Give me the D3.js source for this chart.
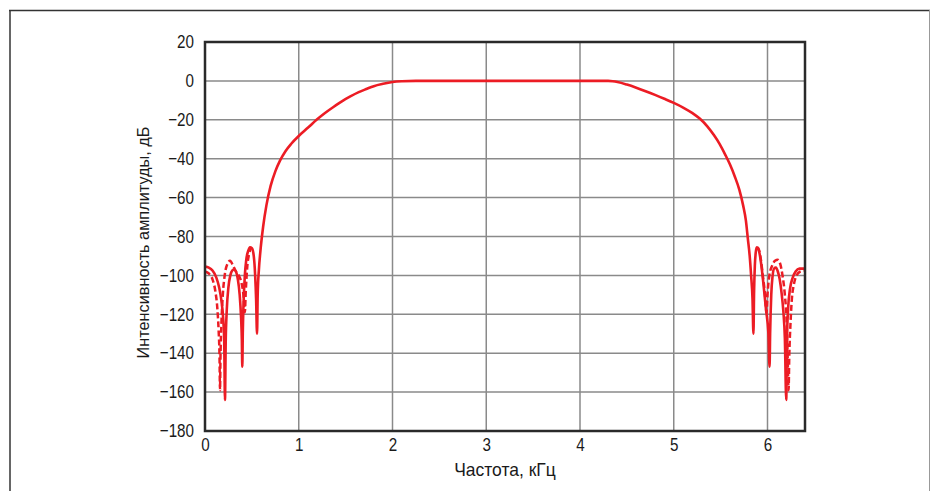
<!DOCTYPE html>
<html><head><meta charset="utf-8">
<script src="https://cdn.jsdelivr.net/npm/d3@7"></script>
<style>
html,body{margin:0;padding:0;background:#fff;}
svg{display:block;}
</style></head>
<body>
<svg id="chart" width="931" height="491"></svg>
<script>
// Frequency (kHz) and magnitude (dB) of the solid response
const solidFreq = [0.00,0.04,0.08,0.12,0.15,0.175,0.195,0.205,0.213,0.221,0.232,0.25,0.27,0.29,0.31,0.33,0.35,0.37,0.385,0.393,0.398,0.403,0.41,0.425,0.44,0.46,0.48,0.50,0.52,0.535,0.545,0.555,0.562,0.575,0.59,0.62,0.655,0.70,0.75,0.80,0.86,0.92,1.0,1.1,1.19,1.28,1.37,1.46,1.55,1.64,1.72,1.8,1.9,2.0,2.1,2.25,2.5,3.0,3.5,4.0,4.3,4.35,4.4,4.5,4.6,4.7,4.8,4.9,5.0,5.1,5.2,5.28,5.36,5.43,5.49,5.55,5.6,5.65,5.7,5.74,5.77,5.79,5.81,5.825,5.84,5.85,5.857,5.865,5.875,5.885,5.9,5.92,5.94,5.96,5.985,6.01,6.022,6.028,6.04,6.055,6.07,6.09,6.11,6.13,6.15,6.17,6.185,6.2,6.207,6.22,6.24,6.27,6.3,6.34,6.4];
const solidDb = [-95.5,-96,-97.5,-101,-106,-113,-123,-134,-164,-134,-118,-106,-100,-97.5,-97,-98,-102,-110,-122,-133,-147,-130,-116,-100,-92,-87.5,-85.5,-86,-90,-100,-112,-130,-110,-97,-88,-75,-64,-54,-46.5,-41,-36,-32.3,-28.3,-24,-20,-16.5,-13.4,-10.5,-8,-5.8,-4.2,-2.7,-1.5,-0.6,-0.2,0,0,0,0,0,0,-0.2,-0.6,-1.9,-3.5,-5.3,-7.2,-9.2,-11.3,-13.7,-16.6,-19.5,-23.5,-28,-32.5,-38,-43,-49,-56,-64,-72,-81,-90,-100,-112,-130,-108,-95,-88,-85.5,-86,-90,-97,-106,-118,-130,-147,-130,-110,-100,-96.5,-96,-98,-102,-109,-119,-132,-164,-134,-117,-107,-101,-98,-96.5,-96.5];
// Dashed response (stopband portions where it differs); null = gap
const dashedFreq = [0.00,0.04,0.08,0.11,0.13,0.145,0.155,0.16,0.165,0.175,0.19,0.21,0.24,0.267,0.30,0.33,0.36,0.39,0.41,0.425,0.435,0.45,0.47,0.49, null, 5.89,5.91,5.93,5.95,5.97,5.99,6.0,6.02,6.05,6.08,6.11,6.135,6.16,6.185,6.205,6.215,6.225,6.232,6.245,6.26,6.28,6.31,6.35,6.4];
const dashedDb = [-98,-99,-102,-108,-116,-128,-142,-159,-142,-125,-110,-100,-94,-92.5,-95,-98,-100,-104,-110,-119,-108,-96,-89,-86, null, -85.5,-87,-92,-100,-108,-119,-110,-100,-95,-92.5,-92,-94,-100,-110,-125,-142,-159,-142,-125,-112,-105,-100,-98,-97.5];
const xTicks = [0,1,2,3,4,5,6];
const yTicks = [20,0,-20,-40,-60,-80,-100,-120,-140,-160,-180];
const xTitle = "Частота, кГц";
const yTitle = "Интенсивность амплитуды, дБ";

const svg = d3.select("#chart");
const W = 931, H = 491;
const pL = 205, pR = 805, pT = 42, pB = 431;
const x = d3.scaleLinear().domain([0, 6.4]).range([pL, pR]);
const y = d3.scaleLinear().domain([-180, 20]).range([pB, pT]);
const FONT = "'Liberation Sans',Arial,sans-serif";

// condense text horizontally (narrow typeface look)
function condense(sel, k) {
  sel.each(function() {
    const len = this.getComputedTextLength();
    d3.select(this).attr("textLength", len * k).attr("lengthAdjust", "spacingAndGlyphs");
  });
}

// outer frame
svg.append("line").attr("x1",10).attr("x2",10).attr("y1",10).attr("y2",H).attr("stroke","#666").attr("stroke-width",2);
svg.append("line").attr("x1",9).attr("x2",930).attr("y1",10.5).attr("y2",10.5).attr("stroke","#333").attr("stroke-width",1.5);
svg.append("line").attr("x1",929.5).attr("x2",929.5).attr("y1",10).attr("y2",H).attr("stroke","#999").attr("stroke-width",1);

// grid
const g = svg.append("g");
g.selectAll(".vg").data(xTicks.filter(d=>d>0)).join("line")
  .attr("x1",d=>x(d)).attr("x2",d=>x(d)).attr("y1",pT).attr("y2",pB)
  .attr("stroke","#8a8a8a").attr("stroke-width",1.5);
g.selectAll(".hg").data(yTicks.filter(d=>d>-180 && d<20)).join("line")
  .attr("x1",pL).attr("x2",pR).attr("y1",d=>y(d)).attr("y2",d=>y(d))
  .attr("stroke","#8a8a8a").attr("stroke-width",1.5);

// axes (labels only)
const fmt = d => d < 0 ? "\u2212" + Math.abs(d) : String(d);
const xAxis = svg.append("g").attr("transform",`translate(0,${pB})`)
  .call(d3.axisBottom(x).tickValues(xTicks).tickSize(0).tickPadding(7).tickFormat(d3.format("d")));
const yAxis = svg.append("g").attr("transform",`translate(${pL},0)`)
  .call(d3.axisLeft(y).tickValues(yTicks).tickSize(0).tickPadding(11).tickFormat(fmt));
[xAxis,yAxis].forEach(a=>{
  a.select(".domain").remove();
  a.selectAll("text").attr("font-family",FONT).attr("font-size",19).attr("fill","#1a1a1a");
  condense(a.selectAll("text"), 0.8);
});
yAxis.selectAll("text").attr("dy","0.3em");

// curves
const solid = solidFreq.map((f,i)=>({f, v: solidDb[i]}));
const dashed = dashedFreq.map((f,i)=>({f, v: dashedDb[i]}));
const line = d3.line().defined(d=>d.f!==null && d.v!==null).x(d=>x(d.f)).y(d=>y(d.v)).curve(d3.curveMonotoneX);
svg.append("path").datum(dashed).attr("d",line).attr("fill","none")
  .attr("stroke","#ec1c24").attr("stroke-width",2.5).attr("stroke-dasharray","6,3");
svg.append("path").datum(solid).attr("d",line).attr("fill","none")
  .attr("stroke","#ec1c24").attr("stroke-width",2.6).attr("stroke-linejoin","round");

// plot border
svg.append("rect").attr("x",pL).attr("y",pT).attr("width",pR-pL).attr("height",pB-pT)
  .attr("fill","none").attr("stroke","#2a2a2a").attr("stroke-width",2.5);

// titles
const xt = svg.append("text").attr("x",(pL+pR)/2).attr("y",476).attr("text-anchor","middle")
  .attr("font-family",FONT).attr("font-size",19).attr("fill","#1a1a1a").text(xTitle);
condense(xt, 0.92);
svg.append("text").attr("transform",`translate(149,${(pT+pB)/2+6}) rotate(-90)`).attr("text-anchor","middle")
  .attr("font-family",FONT).attr("font-size",16.3).attr("fill","#1a1a1a").text(yTitle);
</script>
</body></html>
